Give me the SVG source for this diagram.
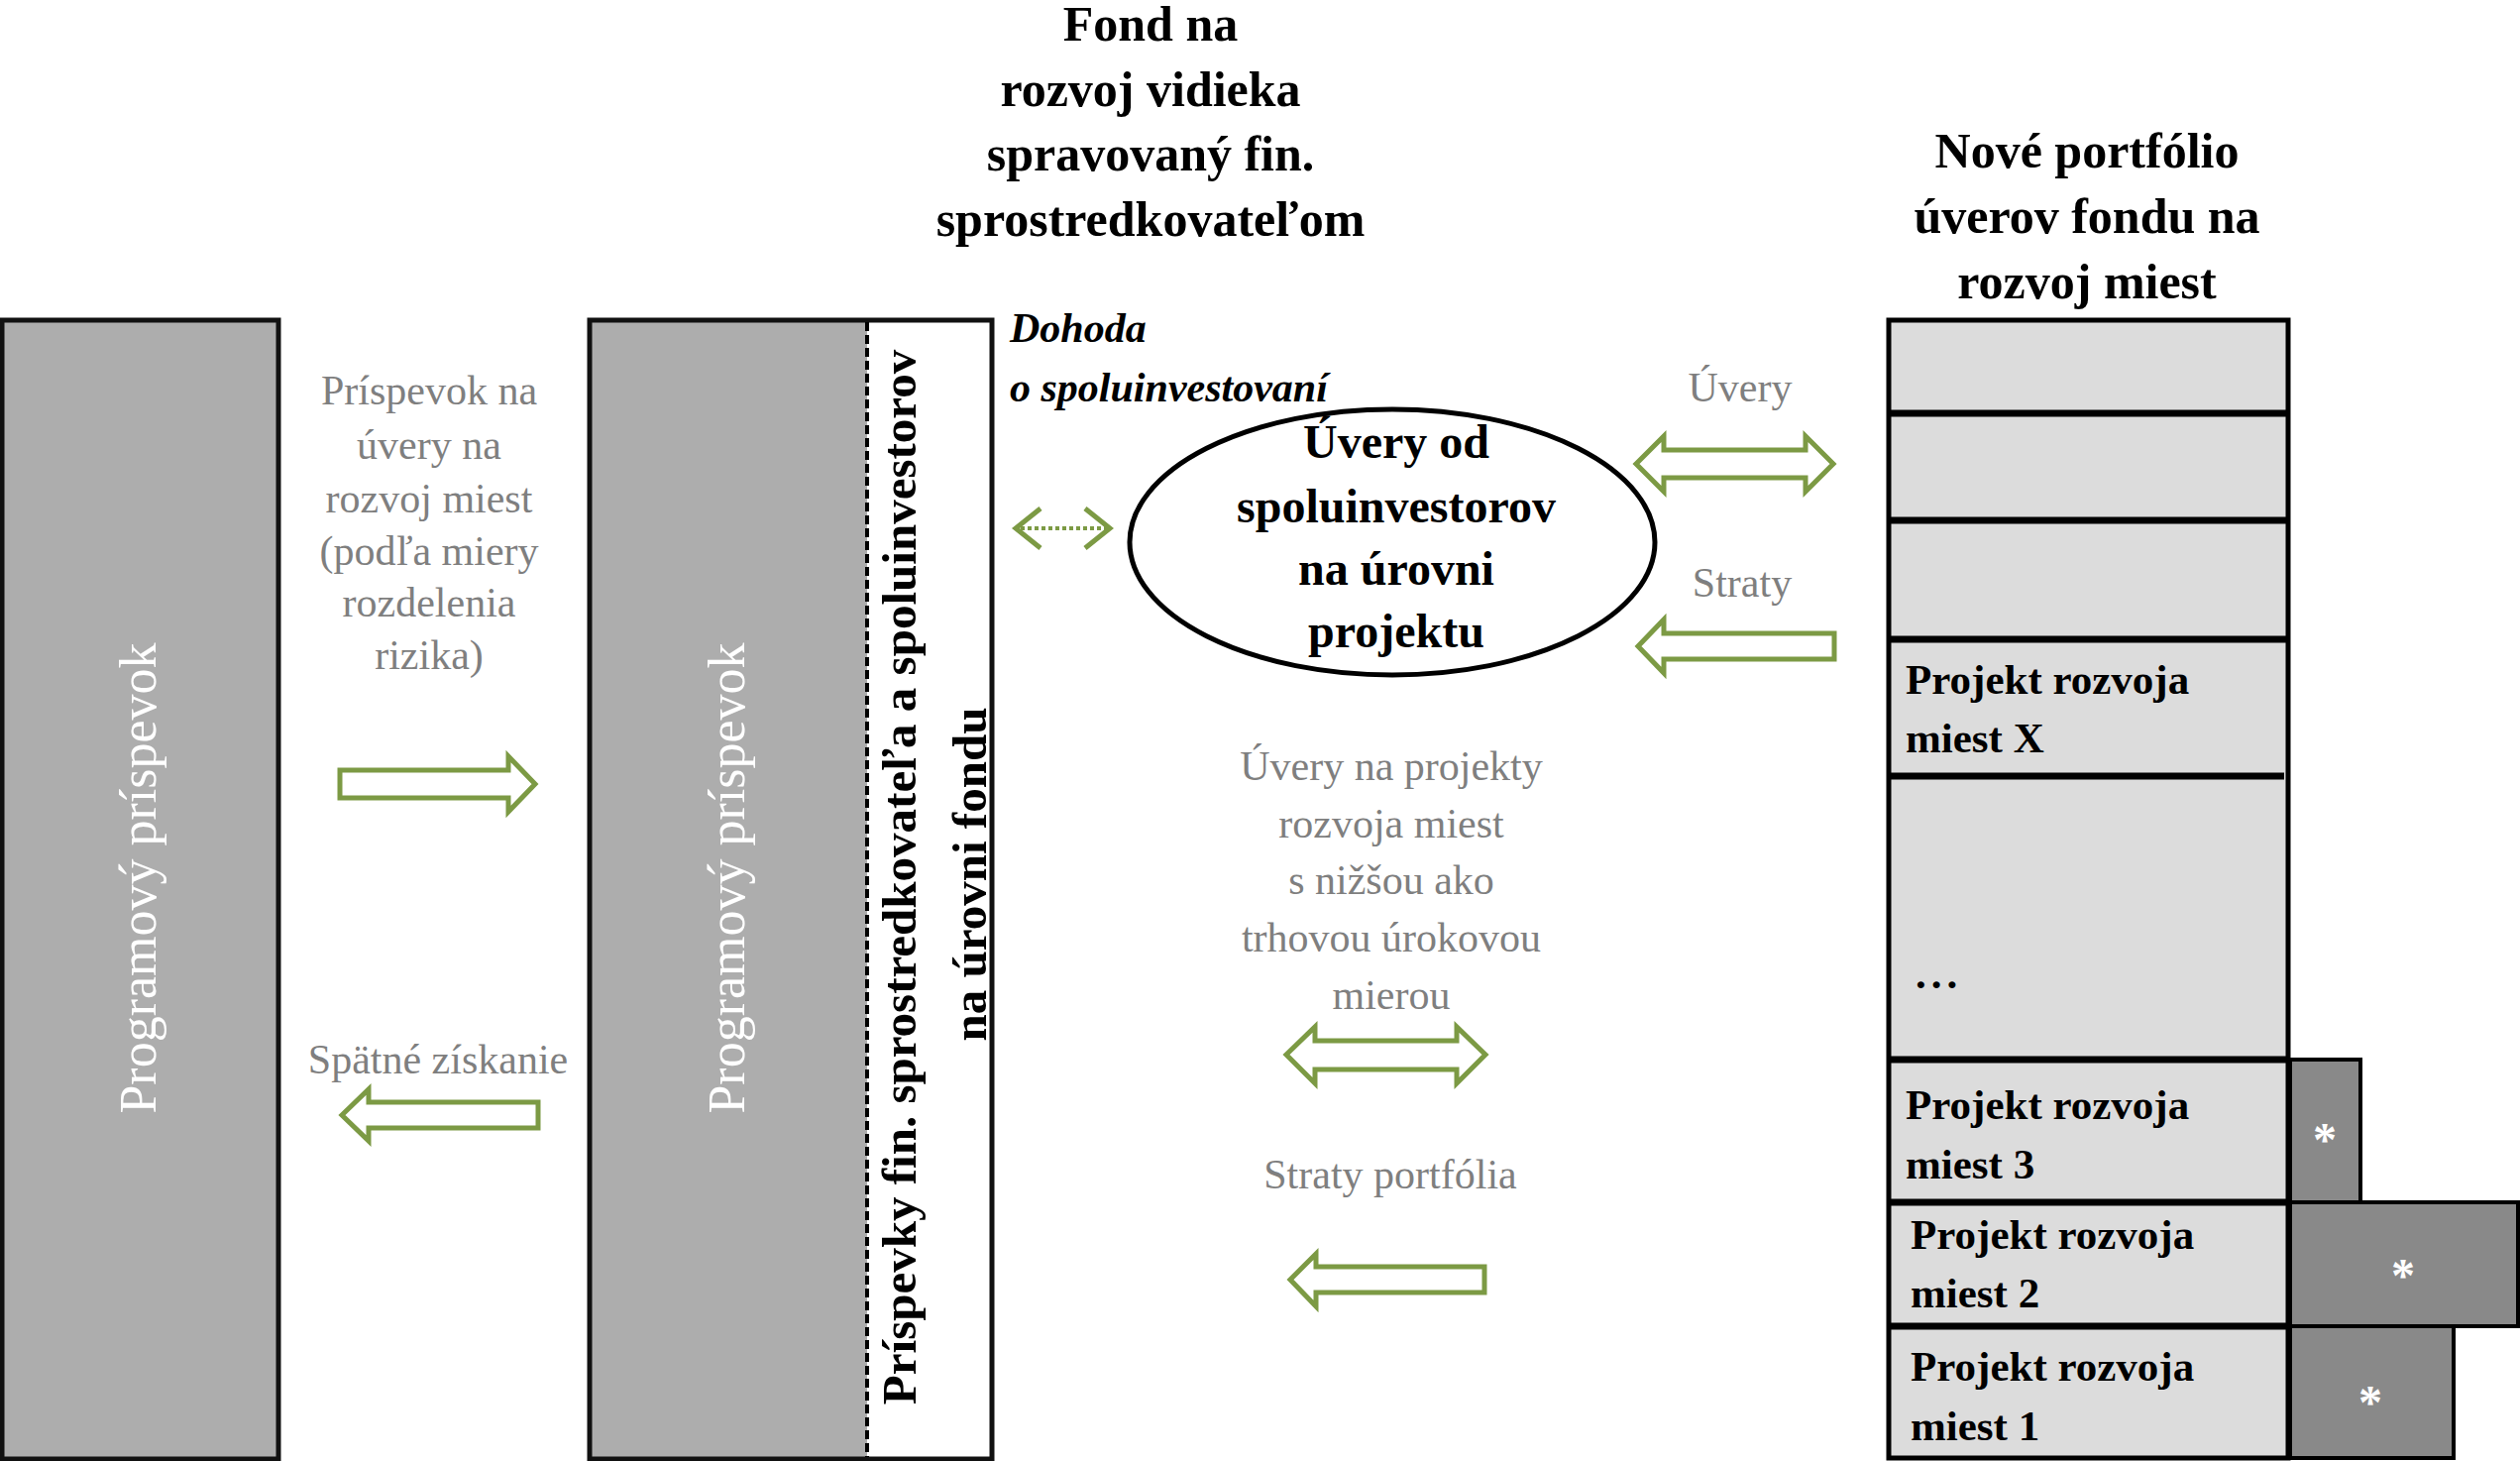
<svg xmlns="http://www.w3.org/2000/svg" width="2543" height="1474" viewBox="0 0 2543 1474">
<style>
text{font-family:"Liberation Serif","DejaVu Serif",serif;}
.title{font-size:50px;font-weight:bold;fill:#000;text-anchor:middle;}
.lbl{font-size:42px;fill:#7F7F7F;text-anchor:middle;}
.vert{font-size:52px;fill:#FFFFFF;text-anchor:middle;}
.vbold{font-size:49px;font-weight:bold;fill:#000;text-anchor:middle;}
.ell{font-size:48px;font-weight:bold;fill:#000;text-anchor:middle;}
.proj{font-size:43px;font-weight:bold;fill:#000;}
.star{font-size:48px;font-weight:bold;fill:#FFFFFF;text-anchor:middle;}
.dohoda{font-size:42px;font-weight:bold;font-style:italic;fill:#000;}
.col{fill:#ADADAD;stroke:#111;stroke-width:5;}
.light{fill:#DCDCDC;stroke:#000;stroke-width:5;}
.div{stroke:#000;stroke-width:7;}
.dark{fill:#898989;stroke:#000;stroke-width:4;}
.blk{fill:#FFFFFF;stroke:#7C9A44;stroke-width:5;stroke-linejoin:miter;}
.chev{fill:none;stroke:#7C9A44;stroke-width:5;}
</style>

<g id="title-fond">
<text class="title" x="1161" y="41">Fond na</text>
<text class="title" x="1161" y="107">rozvoj vidieka</text>
<text class="title" x="1161" y="172">spravovaný fin.</text>
<text class="title" x="1161" y="238">sprostredkovateľom</text>
</g>

<g id="title-portfolio">
<text class="title" x="2106" y="169">Nové portfólio</text>
<text class="title" x="2106" y="235">úverov fondu na</text>
<text class="title" x="2106" y="301">rozvoj miest</text>
</g>

<g id="node-program-left">
<rect class="col" x="2" y="323" width="279" height="1149"/>
<text class="vert" transform="translate(157,886) rotate(-90)">Programový príspevok</text>
</g>

<g id="node-fund">
<rect x="595" y="323" width="406" height="1149" fill="#FFFFFF" stroke="none"/>
<rect x="595" y="323" width="280" height="1149" fill="#ADADAD"/>
<rect x="595" y="323" width="406" height="1149" fill="none" stroke="#111" stroke-width="5"/>
<line x1="875" y1="325" x2="875" y2="1470" stroke="#000" stroke-width="4" stroke-dasharray="9,4"/>
<text class="vert" transform="translate(751,886) rotate(-90)">Programový príspevok</text>
<text class="vbold" transform="translate(924,885) rotate(-90)">Príspevky fin. sprostredkovateľa a spoluinvestorov</text>
<text class="vbold" transform="translate(995,882) rotate(-90)">na úrovni fondu</text>
</g>

<g id="label-dohoda">
<text class="dohoda" x="1019" y="345">Dohoda</text>
<text class="dohoda" x="1019" y="405">o spoluinvestovaní</text>
</g>

<g id="node-coinvestors">
<ellipse cx="1405" cy="547" rx="265" ry="134" fill="#FFFFFF" stroke="#000" stroke-width="5"/>
<text class="ell" x="1409" y="462">Úvery od</text>
<text class="ell" x="1409" y="527">spoluinvestorov</text>
<text class="ell" x="1409" y="590">na úrovni</text>
<text class="ell" x="1409" y="653">projektu</text>
</g>

<g id="node-portfolio">
<rect class="light" x="1906" y="323" width="403" height="1148"/>
<line class="div" x1="1904" y1="417" x2="2309" y2="417"/>
<line class="div" x1="1904" y1="525" x2="2309" y2="525"/>
<line class="div" x1="1904" y1="645" x2="2309" y2="645"/>
<line class="div" x1="1906" y1="783" x2="2305" y2="783"/>
<line class="div" x1="1904" y1="1069" x2="2309" y2="1069"/>
<line class="div" x1="1906" y1="1213" x2="2309" y2="1213"/>
<line class="div" x1="1906" y1="1338" x2="2309" y2="1338"/>
<text class="proj" x="1923" y="700">Projekt rozvoja</text>
<text class="proj" x="1923" y="759">miest X</text>
<text class="proj" x="1933" y="997" letter-spacing="5">...</text>
</g>

<g id="node-project-3">
<rect class="dark" x="2311" y="1069" width="71" height="144"/>
<text class="proj" x="1923" y="1129">Projekt rozvoja</text>
<text class="proj" x="1923" y="1189">miest  3</text>
<text class="star" x="2346" y="1166">*</text>
</g>

<g id="node-project-2">
<rect class="dark" x="2311" y="1213" width="230" height="125"/>
<text class="proj" x="1928" y="1260">Projekt rozvoja</text>
<text class="proj" x="1928" y="1319">miest  2</text>
<text class="star" x="2425" y="1303">*</text>
</g>

<g id="node-project-1">
<rect class="dark" x="2311" y="1338" width="165" height="133"/>
<text class="proj" x="1928" y="1393">Projekt rozvoja</text>
<text class="proj" x="1928" y="1453">miest  1</text>
<text class="star" x="2392" y="1431">*</text>
</g>

<g id="labels">
<text class="lbl" x="433" y="408">Príspevok na</text>
<text class="lbl" x="433" y="463">úvery na</text>
<text class="lbl" x="433" y="517">rozvoj miest</text>
<text class="lbl" x="433" y="570">(podľa miery</text>
<text class="lbl" x="433" y="622">rozdelenia</text>
<text class="lbl" x="433" y="675">rizika)</text>
<text class="lbl" x="442" y="1083">Spätné získanie</text>
<text class="lbl" x="1756" y="405">Úvery</text>
<text class="lbl" x="1758" y="602">Straty</text>
<text class="lbl" x="1404" y="787">Úvery na projekty</text>
<text class="lbl" x="1404" y="845">rozvoja miest</text>
<text class="lbl" x="1404" y="902">s nižšou ako</text>
<text class="lbl" x="1404" y="960">trhovou úrokovou</text>
<text class="lbl" x="1404" y="1018">mierou</text>
<text class="lbl" x="1403" y="1199">Straty portfólia</text>
</g>

<g id="connectors">
<path class="blk" d="M343,777 L513,777 L513,763 L540,791 L513,819 L513,805 L343,805 Z"/>
<path class="blk" d="M345,1125 L372,1099 L372,1112 L543,1112 L543,1138 L372,1138 L372,1151 Z"/>
<line x1="1030" y1="533" x2="1116" y2="533" stroke="#7C9A44" stroke-width="4" stroke-dasharray="4,3"/>
<polyline class="chev" points="1050,513 1025,533 1050,553"/>
<polyline class="chev" points="1095,513 1120,533 1095,553"/>
<path class="blk" d="M1651,468 L1679,440 L1679,454 L1822,454 L1822,440 L1850,468 L1822,496 L1822,482 L1679,482 L1679,496 Z"/>
<path class="blk" d="M1653,652 L1679,625 L1679,639 L1851,639 L1851,665 L1679,665 L1679,679 Z"/>
<path class="blk" d="M1298,1064 L1327,1036 L1327,1050 L1470,1050 L1470,1036 L1499,1064 L1470,1093 L1470,1079 L1327,1079 L1327,1093 Z"/>
<path class="blk" d="M1302,1291 L1328,1265 L1328,1278 L1498,1278 L1498,1304 L1328,1304 L1328,1318 Z"/>
</g>
</svg>
